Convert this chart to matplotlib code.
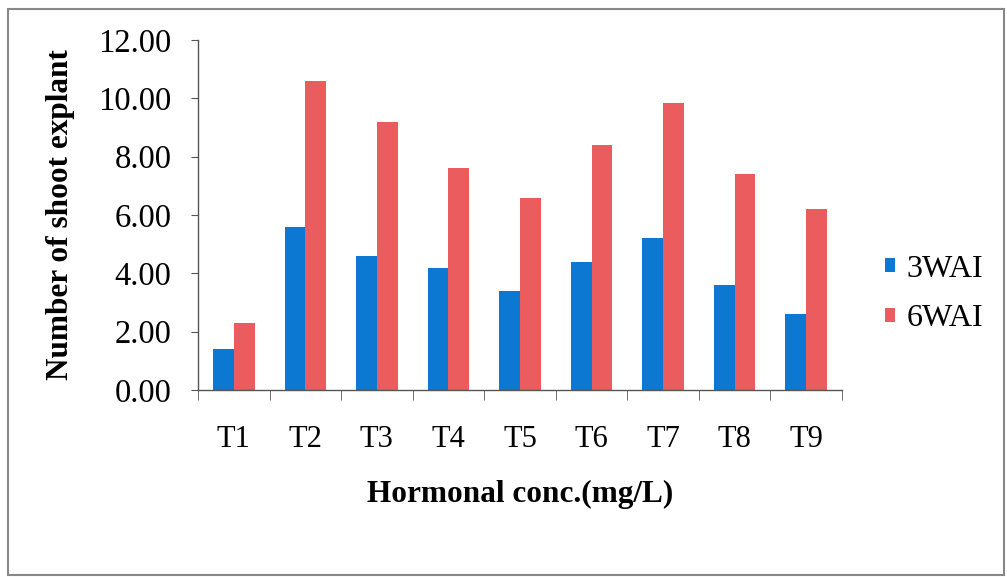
import numpy as np
import matplotlib.pyplot as plt
from matplotlib.patches import Rectangle

treatments = ['T1', 'T2', 'T3', 'T4', 'T5', 'T6', 'T7', 'T8', 'T9']
wai3 = [1.40, 5.60, 4.60, 4.20, 3.40, 4.40, 5.20, 3.60, 2.60]
wai6 = [2.30, 10.60, 9.20, 7.60, 6.60, 8.40, 9.85, 7.40, 6.20]

plt.rcParams['font.family'] = ['Liberation Serif', 'DejaVu Serif']

fig = plt.figure(figsize=(10.07, 5.77), dpi=100)
ax = fig.add_axes([198/1007, 1 - 390/577, (842-198)/1007, 350/577])

x = np.arange(len(treatments))
w = 0.29
ax.bar(x - w/2, wai3, w, color='#0c78d2', label='3WAI')
ax.bar(x + w/2, wai6, w, color='#eb5c5f', label='6WAI')

ax.set_xlim(-0.5, len(treatments) - 0.5)
ax.set_ylim(0, 12)
ax.set_yticks(np.arange(0, 12.01, 2))
ax.set_yticklabels(['%.2f' % v for v in np.arange(0, 12.01, 2)], fontsize=23.5)
ax.set_xticks(x)
ax.set_xticklabels(treatments, fontsize=22)
# category boundary ticks like a spreadsheet chart
ax.set_xticks(np.arange(-0.5, len(treatments)), minor=True)
ax.tick_params(axis='x', which='major', length=0, pad=25)
ax.tick_params(axis='x', which='minor', length=7, direction='out', color='#555555')
ax.tick_params(axis='y', length=5, direction='out', color='#555555', pad=14)

for s in ['top', 'right']:
    ax.spines[s].set_visible(False)
for s in ['left', 'bottom']:
    ax.spines[s].set_color('#555555')
    ax.spines[s].set_linewidth(1)

ax.set_ylabel('Number of shoot explant', fontsize=22.5, fontweight='bold', labelpad=17)
ax.set_xlabel('Hormonal conc.(mg/L)', fontsize=22.5, fontweight='bold', labelpad=19)

leg = fig.legend(loc='center left', bbox_to_anchor=(856/1007, 1 - 294/577), frameon=False,
                 fontsize=23, handlelength=0.33, handleheight=0.33, handletextpad=0.35,
                 labelspacing=0.65)

# outer chart frame
fig.patches.append(Rectangle((8/1007, 2/577), 996/1007, 566/577, transform=fig.transFigure,
                             fill=False, edgecolor='#888888', linewidth=1.5))

fig.savefig('out.png', dpi=100)
